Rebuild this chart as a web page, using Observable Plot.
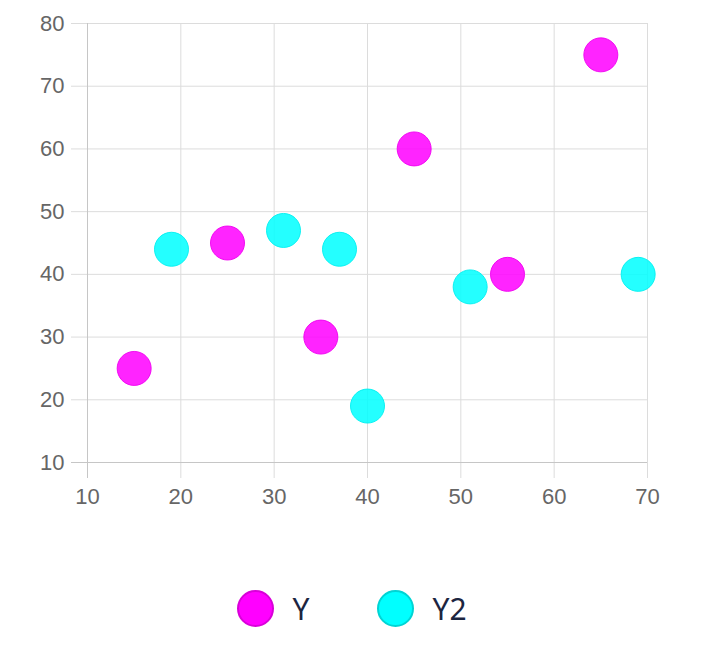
<!DOCTYPE html>
<html>
<head>
<meta charset="utf-8">
<script src="https://cdn.jsdelivr.net/npm/d3@7"></script>
<script src="https://cdn.jsdelivr.net/npm/@observablehq/plot@0.6"></script>
<style>
  body { margin: 0; background: #fff; }
  #chart svg { display: block; }
  .legend { display: flex; justify-content: center; align-items: center; gap: 68px; margin-top: 48px; font-family: "Noto Sans", "Open Sans", sans-serif; font-size: 30px; color: #1c2540; }
  .item { display: flex; align-items: center; }
  .sw { width: 33px; height: 33px; border-radius: 50%; margin-right: 18px; }
</style>
</head>
<body>
<div id="chart"></div>
<script>
const seriesNames = ["Y", "Y2"];
const seriesY_x = [15, 25, 35, 45, 55, 65];
const seriesY_y = [25, 45, 30, 60, 40, 75];
const seriesY2_x = [19, 31, 37, 40, 51, 69];
const seriesY2_y = [44, 47, 44, 19, 38, 40];
const xTicks = [10, 20, 30, 40, 50, 60, 70];
const yTicks = [10, 20, 30, 40, 50, 60, 70, 80];
const fills = ["rgba(255,0,255,0.86)", "rgba(0,255,255,0.86)"];
const strokes = ["rgba(240,0,240,0.9)", "rgba(0,240,240,0.9)"];

const data = [
  ...seriesY_x.map((x, i) => ({x, y: seriesY_y[i], s: seriesNames[0]})),
  ...seriesY2_x.map((x, i) => ({x, y: seriesY2_y[i], s: seriesNames[1]}))
];

const chart = Plot.plot({
  width: 704,
  height: 540,
  marginLeft: 87,
  marginRight: 57,
  marginTop: 23,
  marginBottom: 78,
  style: { fontFamily: "'Liberation Sans', Arial, sans-serif", fontSize: "22px", background: "#fff" },
  x: { domain: [10, 70], ticks: xTicks, label: null },
  y: { domain: [10, 80], ticks: yTicks, label: null },
  color: { domain: seriesNames, range: fills },
  marks: [
    Plot.ruleY(yTicks.slice(1), { y: d => d, stroke: "#dcdcdc", strokeWidth: 1, insetLeft: -16 }),
    Plot.ruleX(xTicks.slice(1), { x: d => d, stroke: "#dcdcdc", strokeWidth: 1, insetBottom: -16 }),
    Plot.ruleY([10], { y: d => d, stroke: "#c6c6c6", strokeWidth: 1, insetLeft: -16 }),
    Plot.ruleX([10], { x: d => d, stroke: "#c6c6c6", strokeWidth: 1, insetBottom: -16 }),
    Plot.axisX({ ticks: xTicks, tickSize: 0, tickPadding: 26, fill: "#666", fontSize: 22, label: null }),
    Plot.axisY({ ticks: yTicks, tickSize: 0, tickPadding: 23, fill: "#666", fontSize: 22, label: null }),
    Plot.dot(data, { x: "x", y: "y", r: 17, fill: "s", stroke: d => strokes[seriesNames.indexOf(d.s)], strokeWidth: 1 })
  ]
});
document.getElementById("chart").appendChild(chart);

const legend = document.createElement("div");
legend.className = "legend";
const legendFills = ["#ff00ff", "#00ffff"];
const legendBorders = ["#d900d9", "#00d4d4"];
seriesNames.forEach((name, i) => {
  const item = document.createElement("div");
  item.className = "item";
  const sw = document.createElement("span");
  sw.className = "sw";
  sw.style.background = legendFills[i];
  sw.style.border = "2px solid " + legendBorders[i];
  const label = document.createElement("span");
  label.textContent = name;
  item.appendChild(sw);
  item.appendChild(label);
  legend.appendChild(item);
});
document.body.appendChild(legend);
</script>
</body>
</html>
